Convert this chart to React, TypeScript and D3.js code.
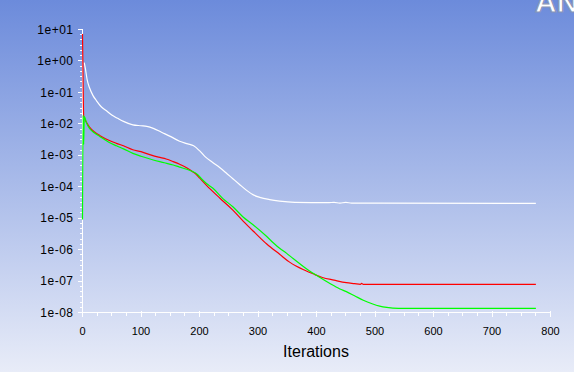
import React, { useEffect, useRef } from 'react';
import * as d3 from 'd3';

// residual history (iteration, residual)
const whiteIter = [3, 5, 8, 12, 18, 24, 32, 41, 50, 60, 70, 86, 100, 110, 121, 135, 150, 166, 180, 190, 200, 210, 222, 235, 247, 257, 268, 280, 292, 303, 320, 337, 363, 420, 430, 440, 450, 460, 508, 775];
const whiteVals = [0.89, 0.56, 0.25, 0.14, 0.079, 0.054, 0.035, 0.026, 0.019, 0.015, 0.012, 0.0093, 0.0087, 0.0083, 0.0072, 0.0054, 0.004, 0.0028, 0.0023, 0.002, 0.0014, 8.9e-4, 6.0e-4, 4.0e-4, 2.6e-4, 1.8e-4, 1.2e-4, 7.8e-5, 5.5e-5, 4.6e-5, 3.9e-5, 3.5e-5, 3.2e-5, 3.1e-5, 3.2e-5, 3.0e-5, 3.2e-5, 3.0e-5, 3.0e-5, 2.95e-5];

const redIter = [0, 1, 2, 4, 7, 12, 20, 30, 45, 58, 70, 86, 100, 115, 130, 143, 155, 166, 178, 189, 195, 200, 212, 235, 257, 275, 295, 315, 337, 354, 365, 380, 394, 410, 430, 451, 465, 475, 477, 480, 775];
const redVals = [7.2, 0.2, 0.018, 0.014, 0.011, 0.0079, 0.0056, 0.0042, 0.003, 0.0024, 0.002, 0.0015, 0.0013, 0.00105, 8.7e-4, 7.6e-4, 6.3e-4, 5.2e-4, 4.0e-4, 2.95e-4, 2.4e-4, 1.9e-4, 1.1e-4, 4.3e-5, 1.8e-5, 7.9e-6, 3.4e-6, 1.5e-6, 7.1e-7, 4.0e-7, 3.0e-7, 2.2e-7, 1.7e-7, 1.3e-7, 1.07e-7, 8.9e-8, 8.3e-8, 7.9e-8, 8.5e-8, 7.8e-8, 7.8e-8];

const greenIter = [0, 1, 2, 3, 4, 7, 12, 20, 30, 45, 58, 70, 86, 100, 121, 140, 155, 166, 178, 189, 195, 205, 212, 223, 240, 257, 275, 291, 315, 326, 337, 349, 360, 371, 385, 403, 423, 440, 451, 465, 480, 495, 508, 520, 540, 775];
const greenVals = [9e-6, 0.019, 0.0022, 0.017, 0.016, 0.0105, 0.0072, 0.0052, 0.0039, 0.0026, 0.002, 0.0016, 0.00115, 9.3e-4, 7.1e-4, 5.8e-4, 4.9e-4, 4.2e-4, 3.6e-4, 3.0e-4, 2.6e-4, 1.66e-4, 1.26e-4, 8.9e-5, 4.2e-5, 2.3e-5, 1.07e-5, 6.3e-6, 2.6e-6, 1.66e-6, 1.1e-6, 7.6e-7, 5.2e-7, 3.6e-7, 2.3e-7, 1.4e-7, 8.3e-8, 5.6e-8, 4.6e-8, 3.4e-8, 2.45e-8, 1.9e-8, 1.6e-8, 1.45e-8, 1.35e-8, 1.35e-8];

const xTicks = [0, 100, 200, 300, 400, 500, 600, 700, 800];
const yTicks = [1e1, 1e0, 1e-1, 1e-2, 1e-3, 1e-4, 1e-5, 1e-6, 1e-7, 1e-8];
const yTickLabels = ['1e+01', '1e+00', '1e-01', '1e-02', '1e-03', '1e-04', '1e-05', '1e-06', '1e-07', '1e-08'];

const App: React.FC = () => {
  const ref = useRef<SVGSVGElement | null>(null);

  useEffect(() => {
    if (!ref.current) return;
    const svg = d3.select(ref.current);
    svg.selectAll('*').remove();

    const width = 574;
    const height = 372;

    const x = d3.scaleLinear().domain([0, 800]).range([82.5, 550.5]);
    const y = d3.scaleLog().domain([1e-8, 1e1]).range([312.5, 29.5]);

    // background
    const grad = svg.append('defs').append('linearGradient')
      .attr('id', 'bg').attr('x1', 0).attr('y1', 0).attr('x2', 0).attr('y2', 1);
    grad.append('stop').attr('offset', '0%').attr('stop-color', '#6c8bdb');
    grad.append('stop').attr('offset', '100%').attr('stop-color', '#e8ecf8');
    svg.append('rect').attr('width', width).attr('height', height).attr('fill', 'url(#bg)');

    // logo, cropped by the top edge like in the original window
    svg.append('text')
      .attr('x', 535).attr('y', 12)
      .attr('font-family', 'Liberation Sans, Arial, sans-serif')
      .attr('font-weight', 'bold').attr('font-size', 30)
      .attr('fill', '#ffffff').attr('stroke', '#8a96b8').attr('stroke-width', 1.2)
      .text('ANSYS');

    const axis = svg.append('g').attr('stroke', '#ffffff').attr('shape-rendering', 'crispEdges');

    // axes lines
    axis.append('line').attr('x1', x(0)).attr('x2', x(0)).attr('y1', y(1e1)).attr('y2', y(1e-8));
    axis.append('line').attr('x1', x(0)).attr('x2', x(800)).attr('y1', y(1e-8)).attr('y2', y(1e-8));

    // y ticks: major per decade, 5 evenly spaced minor ones between
    for (let e = 1; e >= -8; e--) {
      const yy = y(Math.pow(10, e));
      axis.append('line').attr('x1', x(0) - 5).attr('x2', x(0)).attr('y1', yy).attr('y2', yy);
      if (e > -8) {
        for (let k = 1; k < 6; k++) {
          const ym = y(Math.pow(10, e - k / 6));
          axis.append('line').attr('x1', x(0) - 3).attr('x2', x(0)).attr('y1', ym).attr('y2', ym);
        }
      }
    }

    // x ticks every 25, longer at hundreds
    const y0 = y(1e-8);
    d3.range(0, 801, 25).forEach((t) => {
      const major = t % 100 === 0;
      axis.append('line')
        .attr('x1', x(t)).attr('x2', x(t))
        .attr('y1', major ? y0 - 2 : y0).attr('y2', major ? y0 + 4 : y0 + 3);
    });

    svg.append('g')
      .selectAll('text')
      .data(yTicks)
      .enter()
      .append('text')
      .attr('x', x(0) - 9)
      .attr('y', (d) => y(d))
      .attr('dy', '0.35em')
      .attr('text-anchor', 'end')
      .attr('font-family', 'Liberation Sans, Arial, sans-serif')
      .attr('font-size', 12)
      .attr('letter-spacing', 0.5)
      .attr('fill', '#000000')
      .text((_, i) => yTickLabels[i]);

    svg.append('g')
      .selectAll('text')
      .data(xTicks)
      .enter()
      .append('text')
      .attr('x', (d) => x(d))
      .attr('y', 335)
      .attr('text-anchor', 'middle')
      .attr('font-family', 'Liberation Sans, Arial, sans-serif')
      .attr('font-size', 11)
      .attr('fill', '#000000')
      .text((d) => String(d));

    svg.append('text')
      .attr('x', 316)
      .attr('y', 357)
      .attr('text-anchor', 'middle')
      .attr('font-family', 'Liberation Sans, Arial, sans-serif')
      .attr('font-size', 16)
      .attr('fill', '#000000')
      .text('Iterations');

    // residual curves
    const line = d3.line<[number, number]>()
      .x((d) => x(d[0]))
      .y((d) => y(d[1]))
      .curve(d3.curveMonotoneX);

    const series: { it: number[]; vals: number[]; color: string }[] = [
      { it: whiteIter, vals: whiteVals, color: '#ffffff' },
      { it: redIter, vals: redVals, color: '#ff0000' },
      { it: greenIter, vals: greenVals, color: '#00ff00' },
    ];

    series.forEach((s) => {
      const pts = s.it.map((t, i) => [t, s.vals[i]] as [number, number]);
      svg.append('path')
        .datum(pts)
        .attr('fill', 'none')
        .attr('stroke', s.color)
        .attr('stroke-width', 1.2)
        .attr('d', line);
    });
  }, []);

  return (
    <svg
      ref={ref}
      width={574}
      height={372}
      style={{ position: 'absolute', left: 0, top: 0, display: 'block' }}
    />
  );
};

export default App;
